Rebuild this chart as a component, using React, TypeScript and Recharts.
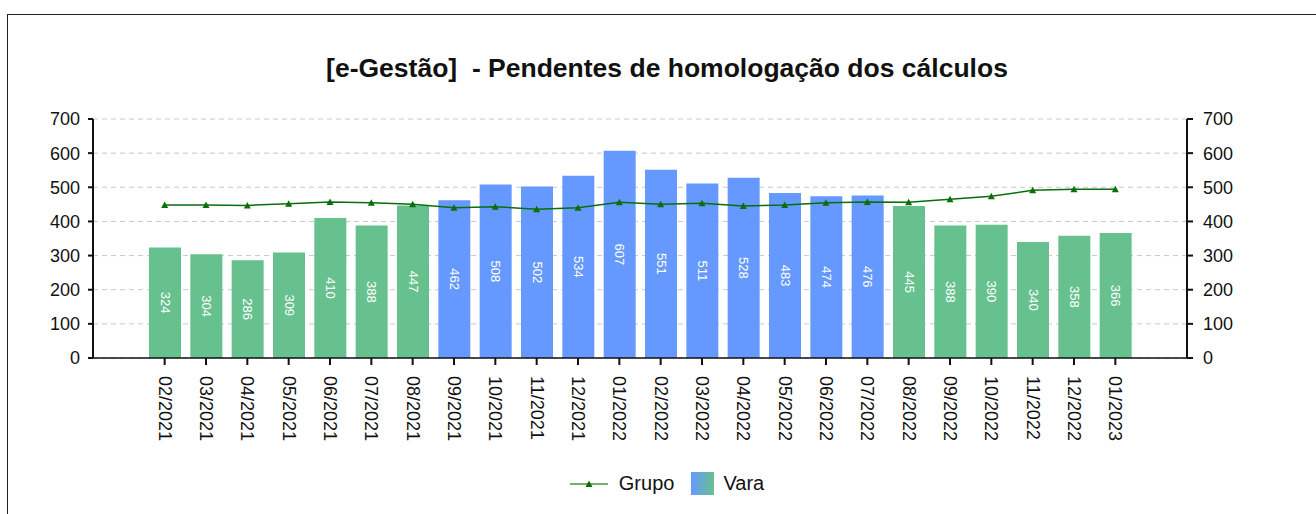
import { Bar, CartesianGrid, Cell, ComposedChart, LabelList, Legend, Line, XAxis, YAxis } from "recharts";

const months = [
    "02/2021", "03/2021", "04/2021", "05/2021", "06/2021", "07/2021", "08/2021",
    "09/2021", "10/2021", "11/2021", "12/2021", "01/2022", "02/2022", "03/2022",
    "04/2022", "05/2022", "06/2022", "07/2022", "08/2022", "09/2022", "10/2022",
    "11/2022", "12/2022", "01/2023",
];
const varaValues = [
    324, 304, 286, 309, 410, 388, 447, 462, 508, 502, 534, 607,
    551, 511, 528, 483, 474, 476, 445, 388, 390, 340, 358, 366,
];
const grupoValues = [
    448, 448, 447, 452, 457, 455, 450, 440, 443, 436, 440, 456,
    450, 453, 445, 448, 455, 457, 456, 465, 474, 491, 494, 494,
];
// months where the vara bar is drawn blue instead of green
const blueMonths = [
    "09/2021", "10/2021", "11/2021", "12/2021", "01/2022", "02/2022",
    "03/2022", "04/2022", "05/2022", "06/2022", "07/2022",
];
const yTicks = [0, 100, 200, 300, 400, 500, 600, 700];

const GREEN = "#66c18e";
const BLUE = "#6699ff";
const LINE = "#0a6e0a";
const FONT = "'Liberation Sans', Arial, sans-serif";

const data = months.map((m, i) => ({ month: m, vara: varaValues[i], grupo: grupoValues[i] }));

const MonthTick = ({ x, y, payload }: any) => (
    <text
        transform={`translate(${x},${y}) rotate(90)`}
        textAnchor="start"
        dominantBaseline="central"
        fontSize={18}
        fill="#111"
        fontFamily={FONT}
    >
        {payload.value}
    </text>
);

const BarValue = ({ x, y, width, height, value }: any) => {
    const cx = Number(x) + Number(width) / 2;
    const cy = Number(y) + Number(height) / 2;
    return (
        <text
            transform={`translate(${cx},${cy}) rotate(90)`}
            textAnchor="middle"
            dominantBaseline="central"
            fontSize={13}
            fill="#fff"
            fontFamily={FONT}
        >
            {value}
        </text>
    );
};

const Triangle = ({ cx, cy }: any) => {
    if (cx == null || cy == null) return null;
    return <path d={`M${cx - 3.5},${cy + 3} L${cx},${cy - 3.5} L${cx + 3.5},${cy + 3} Z`} fill={LINE} />;
};

const LegendBox = () => (
    <div style={{ display: "flex", justifyContent: "center", alignItems: "center", fontFamily: FONT, fontSize: 20, color: "#111" }}>
        <svg width={38} height={12} style={{ marginRight: 11 }}>
            <line x1={0} y1={6} x2={38} y2={6} stroke="#3f9a3f" strokeWidth={1.5} />
            <path d="M15.5,9 L19,2.5 L22.5,9 Z" fill={LINE} />
        </svg>
        <span style={{ marginRight: 17 }}>Grupo</span>
        <svg width={23} height={23} style={{ marginRight: 9 }}>
            <defs>
                <linearGradient id="varaGrad" x1="0" y1="0" x2="1" y2="0">
                    <stop offset="0%" stopColor={BLUE} />
                    <stop offset="100%" stopColor={GREEN} />
                </linearGradient>
            </defs>
            <rect width={23} height={23} fill="url(#varaGrad)" />
        </svg>
        <span>Vara</span>
    </div>
);

export default function App() {
    return (
        <div style={{ position: "fixed", left: 0, top: 0, width: 1316, height: 514, overflow: "hidden", background: "#fff" }}>
            <div style={{ position: "absolute", left: 7, top: 14, width: 1400, height: 600, border: "1px solid #222" }} />
            <div
                style={{
                    position: "absolute", left: 0, top: 53, width: 1334, textAlign: "center",
                    fontFamily: FONT, fontWeight: "bold", fontSize: 26.5, color: "#111", whiteSpace: "pre",
                }}
            >
                [e-Gestão]  - Pendentes de homologação dos cálculos
            </div>
            <div style={{ position: "absolute", left: 0, top: 0 }}>
                <ComposedChart width={1316} height={514} data={data} margin={{ top: 119, right: 49, left: 0, bottom: 56 }}>
                    <CartesianGrid vertical={false} stroke="#c8c8c8" strokeDasharray="5 4" yAxisId="left" />
                    <XAxis
                        dataKey="month"
                        interval={0}
                        height={100}
                        padding={{ left: 51, right: 51 }}
                        tick={<MonthTick />}
                        tickSize={7}
                        tickMargin={11}
                        tickLine={{ stroke: "#111", strokeWidth: 2 }}
                        axisLine={{ stroke: "#111", strokeWidth: 1.5 }}
                    />
                    <YAxis
                        yAxisId="left"
                        width={93}
                        domain={[0, 700]}
                        ticks={yTicks}
                        tickSize={5}
                        tickMargin={8}
                        tick={{ fontSize: 18, fill: "#111", fontFamily: FONT }}
                        tickLine={{ stroke: "#111", strokeWidth: 2 }}
                        axisLine={{ stroke: "#111", strokeWidth: 2 }}
                    />
                    <YAxis
                        yAxisId="right"
                        orientation="right"
                        width={80}
                        domain={[0, 700]}
                        ticks={yTicks}
                        tickSize={6}
                        tickMargin={10}
                        tick={{ fontSize: 18, fill: "#111", fontFamily: FONT, textAnchor: "start" }}
                        tickLine={{ stroke: "#111", strokeWidth: 2 }}
                        axisLine={{ stroke: "#111", strokeWidth: 2 }}
                    />
                    <Bar dataKey="vara" name="Vara" yAxisId="left" barSize={32} isAnimationActive={false}>
                        {data.map((d) => (
                            <Cell key={d.month} fill={blueMonths.includes(d.month) ? BLUE : GREEN} />
                        ))}
                        <LabelList dataKey="vara" content={<BarValue />} />
                    </Bar>
                    <Line
                        dataKey="grupo"
                        name="Grupo"
                        yAxisId="right"
                        type="linear"
                        stroke={LINE}
                        strokeWidth={1.5}
                        dot={<Triangle />}
                        activeDot={false}
                        isAnimationActive={false}
                    />
                    <Legend
                        verticalAlign="middle"
                        align="center"
                        content={<LegendBox />}
                        wrapperStyle={{ top: 472, left: 0, width: 1334 }}
                    />
                </ComposedChart>
            </div>
        </div>
    );
}
